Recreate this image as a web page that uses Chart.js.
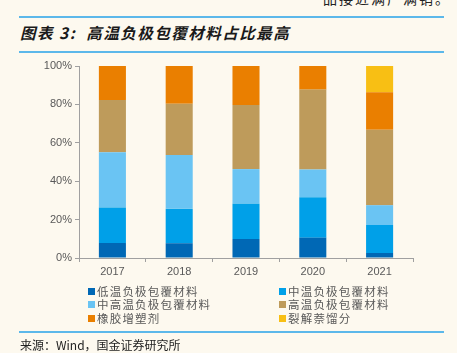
<!DOCTYPE html>
<html><head><meta charset="utf-8">
<script src="https://cdn.jsdelivr.net/npm/chart.js@4/dist/chart.umd.min.js"></script>
<style>
html,body{margin:0;padding:0;background:#fdf9ef;width:457px;height:353px;overflow:hidden;position:relative;font-family:"Noto Sans CJK SC","Liberation Sans",sans-serif;}
.abs{position:absolute;}
#topcut{right:6px;top:-12px;font-size:14px;color:#222;letter-spacing:2px;white-space:nowrap;}
.bline{position:absolute;left:19px;width:425px;height:2px;background:#5cb8ea;}
#title{left:20px;top:21px;font-size:15.5px;font-weight:bold;font-style:italic;color:#1a1a1a;letter-spacing:1.5px;white-space:nowrap;}
#src{left:20px;top:336px;font-size:12px;color:#222;white-space:nowrap;}
#chartwrap{left:0;top:0;width:457px;height:285px;}
.leg{position:absolute;font-size:11.5px;color:#595959;letter-spacing:1.2px;white-space:nowrap;line-height:14px;}
.leg span.m{display:inline-block;width:7px;height:7px;margin-right:2px;vertical-align:1px;}
</style></head>
<body>
<div id="topcut" class="abs">品接近满产满销。</div>
<div class="bline" style="top:16px"></div>
<div id="title" class="abs">图表 3:&nbsp; 高温负极包覆材料占比最高</div>
<div class="bline" style="top:51px"></div>
<div id="chartwrap" class="abs"><canvas id="c" width="457" height="285"></canvas></div>
<div id="legend"></div>
<div class="bline" style="top:331px"></div>
<div id="src" class="abs">来源：Wind，国金证券研究所</div>
<script>
const categories = ["2017","2018","2019","2020","2021"];
const seriesNames = ["低温负极包覆材料","中温负极包覆材料","中高温负极包覆材料","高温负极包覆材料","橡胶增塑剂","裂解萘馏分"];
const lowTemp     = [7.8, 7.7, 9.9, 10.6, 2.6];
const midTemp     = [18.5, 17.9, 18.4, 21.1, 14.6];
const midHighTemp = [28.8, 28.1, 18.0, 14.4, 10.3];
const highTemp    = [27.2, 26.6, 33.4, 41.6, 39.3];
const rubber      = [17.7, 19.7, 20.3, 12.3, 19.5];
const naphthalene = [0, 0, 0, 0, 13.7];
const yTicks = [0,20,40,60,80,100];

const colors = ["#0068b5","#00a0e8","#6ac4f3","#be9b5b","#ea7f00","#f8bf14"];
const seriesData = [lowTemp, midTemp, midHighTemp, highTemp, rubber, naphthalene];

const datasets = seriesNames.map((n,i)=>({
  label:n, data:seriesData[i], backgroundColor:colors[i], borderWidth:0,
  barPercentage:1, categoryPercentage:0.405
}));

new Chart(document.getElementById('c'),{
  type:'bar',
  data:{labels:categories,datasets},
  options:{
    responsive:false, animation:false,
    layout:{padding:{left:0,right:44,top:66,bottom:0}},
    plugins:{legend:{display:false},tooltip:{enabled:false}},
    scales:{
      x:{stacked:true,
        grid:{display:true,drawOnChartArea:false,drawTicks:true,tickLength:4,color:'#a0a0a0',offset:true},
        border:{color:'#a0a0a0',width:1},
        ticks:{color:'#595959',font:{family:'Liberation Sans',size:11},padding:3},
        afterFit:s=>{s.height=27;}
      },
      y:{stacked:true,min:0,max:100,
        afterBuildTicks:s=>{s.ticks=yTicks.map(v=>({value:v}));},
        grid:{display:true,drawOnChartArea:false,drawTicks:true,tickLength:4,color:'#a0a0a0'},
        border:{color:'#a0a0a0',width:1},
        ticks:{color:'#595959',font:{family:'Liberation Sans',size:11},padding:3,callback:v=>v+'%'},
        afterFit:s=>{s.width=79;}
      }
    }
  }
});

const leg = document.getElementById('legend');
const legPos = [[88,284],[279,284],[88,297],[279,297],[88,311],[279,311]];
seriesNames.forEach((n,i)=>{
  const d=document.createElement('div');
  d.className='leg';
  d.style.left=legPos[i][0]+'px'; d.style.top=legPos[i][1]+'px';
  d.innerHTML='<span class="m" style="background:'+colors[i]+'"></span>'+n;
  leg.appendChild(d);
});
</script>
</body></html>
